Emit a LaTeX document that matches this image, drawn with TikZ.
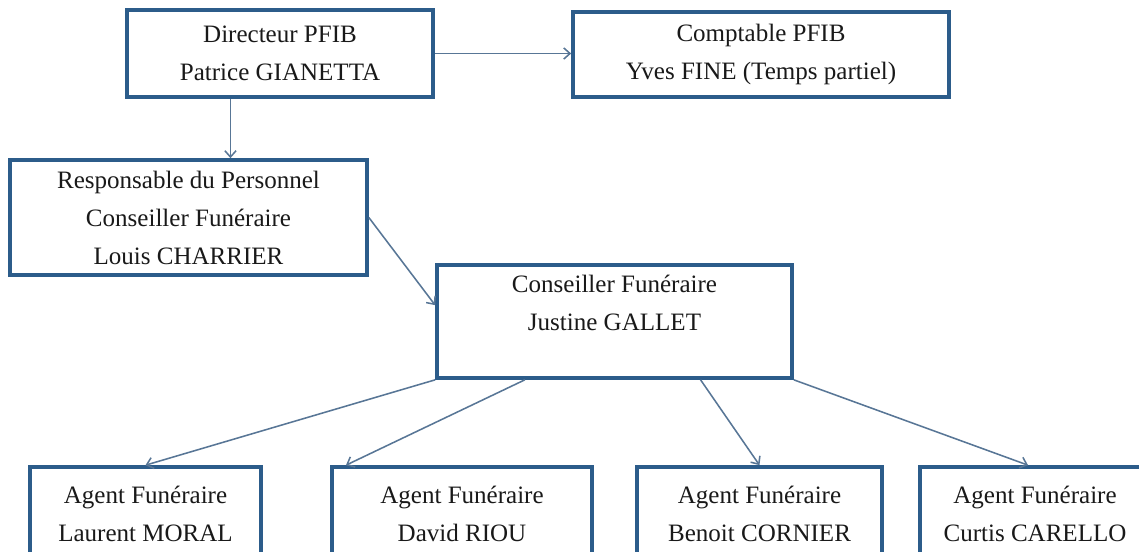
\documentclass[tikz,border=0pt]{standalone}
\usepackage{fontspec}
\setmainfont{Liberation Serif}
\usepackage{xcolor}
\usetikzlibrary{arrows.meta,calc}
\definecolor{boxblue}{RGB}{44,92,138}
\definecolor{linkblue}{RGB}{88,118,150}
\definecolor{inkgrey}{RGB}{25,25,25}

\begin{document}
\begin{tikzpicture}[x=0.025cm,y=-0.025cm,
	box/.style 2 args={draw=boxblue, line width=2.6pt, fill=white, text=inkgrey,
		minimum width=#1*0.025cm, minimum height=#2*0.025cm, inner sep=0pt,
		align=center, font=\fontsize{17.8}{27}\selectfont},
	link/.style={draw=linkblue, line width=1.1pt, -{Straight Barb[length=4.5pt,width=8pt]}}]
 	\useasboundingbox (0,0) rectangle (1139,552);
 	\clip (0,0) rectangle (1139,552);
	\node[box={306}{87}] (dir) at (280,53.5) {Directeur PFIB\\Patrice GIANETTA};
	\node[box={376}{85}] (compt) at (761,54.5) {Comptable PFIB\\Yves FINE (Temps partiel)};
	\node[box={357}{115}] (resp) at (188.5,217.5) {Responsable du Personnel\\Conseiller Funéraire\\Louis CHARRIER};
	\node[box={355}{113}] (conseil) at (614.5,321.5) {Conseiller Funéraire\\Justine GALLET\\~};
	\node[box={231}{93}] (agent1) at (145.5,513.5) {Agent Funéraire\\Laurent MORAL};
	\node[box={260}{93}] (agent2) at (462,513.5) {Agent Funéraire\\David RIOU};
	\node[box={245}{93}] (agent3) at (759.5,513.5) {Agent Funéraire\\Benoit CORNIER};
	\node[box={230}{93}] (agent4) at (1035,513.5) {Agent Funéraire\\Curtis CARELLO};

	\coordinate (d1) at ($(dir.south west)!.34!(dir.south east)$);
	\coordinate (c1) at ($(conseil.north west)!.36!(conseil.south west)$);
	\coordinate (c2) at ($(conseil.south west)!.25!(conseil.south east)$);
	\coordinate (c3) at ($(conseil.south west)!.74!(conseil.south east)$);
	\coordinate (a2) at ($(agent2.north west)!.06!(agent2.north east)$);
	\coordinate (a4) at ($(agent4.north west)!.47!(agent4.north east)$);

	\draw[link] (dir.east) -- (dir.east -| compt.west);
	\draw[link] (d1) -- (d1 |- resp.north);
	\draw[link] (resp.east) -- (c1);
	\draw[link] (conseil.south west) -- (agent1.north);
	\draw[link] (c2) -- (a2);
	\draw[link] (c3) -- (agent3.north);
	\draw[link] (conseil.south east) -- (a4);
\end{tikzpicture}
\end{document}
